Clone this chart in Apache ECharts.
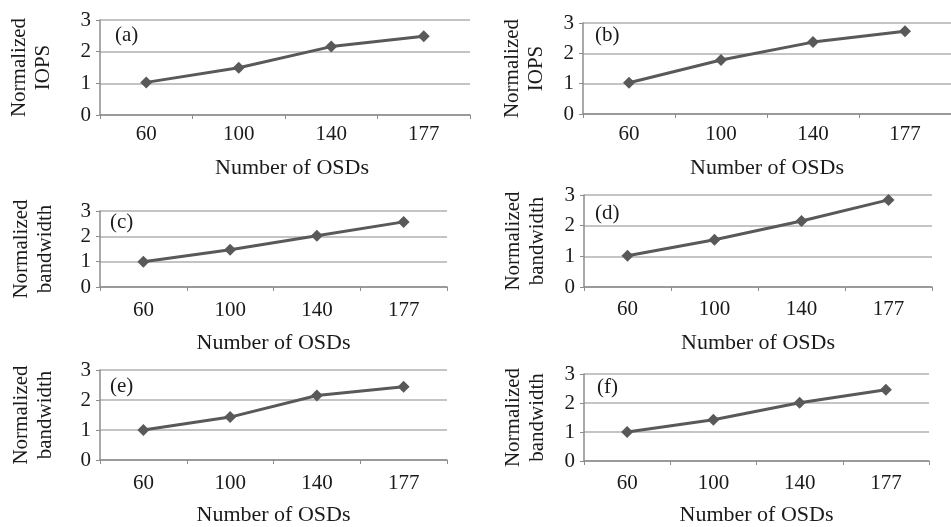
<!DOCTYPE html>
<html>
<head>
<meta charset="utf-8">
<script src="https://cdn.jsdelivr.net/npm/echarts@6/dist/echarts.min.js"></script>
<style>
html,body{margin:0;padding:0;background:#fff;}
#chart{width:951px;height:527px;}
</style>
</head>
<body>
<div id="chart"></div>
<script>
var categories = ['60', '100', '140', '177'];
var seriesA = [1.03, 1.49, 2.16, 2.49];
var seriesB = [1.03, 1.78, 2.37, 2.73];
var seriesC = [1.00, 1.47, 2.02, 2.57];
var seriesD = [1.02, 1.54, 2.15, 2.84];
var seriesE = [1.00, 1.43, 2.15, 2.44];
var seriesF = [1.00, 1.42, 2.01, 2.46];
var panelLabels = ['(a)', '(b)', '(c)', '(d)', '(e)', '(f)'];
var yNames = ['Normalized\nIOPS', 'Normalized\nIOPS', 'Normalized\nbandwidth', 'Normalized\nbandwidth', 'Normalized\nbandwidth', 'Normalized\nbandwidth'];
var xName = 'Number of OSDs';
var yTicks = [0, 1, 2, 3];

var allSeries = [seriesA, seriesB, seriesC, seriesD, seriesE, seriesF];
var FONT = '"Liberation Serif", "Times New Roman", serif';

var grids = [
  {left: 100, top: 20, width: 370, height: 95},
  {left: 583, top: 23, width: 380, height: 91},
  {left: 100, top: 211, width: 347, height: 76},
  {left: 584, top: 195, width: 348, height: 92},
  {left: 100, top: 370, width: 347, height: 93},
  {left: 584, top: 374, width: 345, height: 89}
];
var yNameGaps = [45, 35, 43, 35, 43, 35];
var xNameGaps = [42, 43, 45, 45, 44, 43];
var xNamePads = [[0, 0, 0, 14], [0, 0, 0, 0], [0, 0, 0, 0], [0, 0, 0, 0], [0, 0, 0, 0], [0, 0, 0, 0]];
var xLabelMargins = [9, 10, 13, 12, 13, 12];
var labelPos = [[115, 37], [595, 37], [110, 224], [595, 215], [110, 388], [597, 389]];

var option = {
  backgroundColor: '#ffffff',
  animation: false,
  grid: grids,
  xAxis: grids.map(function (g, i) {
    return {
      type: 'category',
      gridIndex: i,
      data: categories,
      boundaryGap: true,
      name: xName,
      nameLocation: 'middle',
      nameGap: xNameGaps[i],
      nameTextStyle: {fontFamily: FONT, fontSize: 22, color: '#1a1a1a', padding: xNamePads[i]},
      axisLine: {lineStyle: {color: '#8c8c8c', width: 1.5}},
      axisTick: {show: true, length: 4, lineStyle: {color: '#8c8c8c'}},
      axisLabel: {fontFamily: FONT, fontSize: 21, color: '#1a1a1a', margin: xLabelMargins[i]},
      splitLine: {show: false}
    };
  }),
  yAxis: grids.map(function (g, i) {
    return {
      type: 'value',
      gridIndex: i,
      min: yTicks[0],
      max: yTicks[yTicks.length - 1],
      interval: 1,
      name: yNames[i],
      nameLocation: 'middle',
      nameGap: yNameGaps[i],
      nameRotate: 90,
      nameTextStyle: {fontFamily: FONT, fontSize: 21, color: '#1a1a1a', lineHeight: 24, align: 'center'},
      axisLine: {show: true, lineStyle: {color: '#8c8c8c', width: 1.5}},
      axisTick: {show: true, length: 4, lineStyle: {color: '#8c8c8c'}},
      axisLabel: {fontFamily: FONT, fontSize: 21, color: '#1a1a1a', margin: 9},
      splitLine: {show: true, lineStyle: {color: '#b0b0b0', width: 1.5}}
    };
  }),
  series: allSeries.map(function (s, i) {
    return {
      type: 'line',
      xAxisIndex: i,
      yAxisIndex: i,
      data: s,
      symbol: 'diamond',
      symbolSize: 12,
      lineStyle: {color: '#595959', width: 3},
      itemStyle: {color: '#595959'}
    };
  }),
  graphic: panelLabels.map(function (t, i) {
    return {
      type: 'text',
      left: labelPos[i][0],
      top: labelPos[i][1] - 12,
      style: {text: t, font: '21px ' + FONT, fill: '#1a1a1a'}
    };
  })
};

var chart = echarts.init(document.getElementById('chart'), null, {renderer: 'canvas'});
chart.setOption(option);
</script>
</body>
</html>
